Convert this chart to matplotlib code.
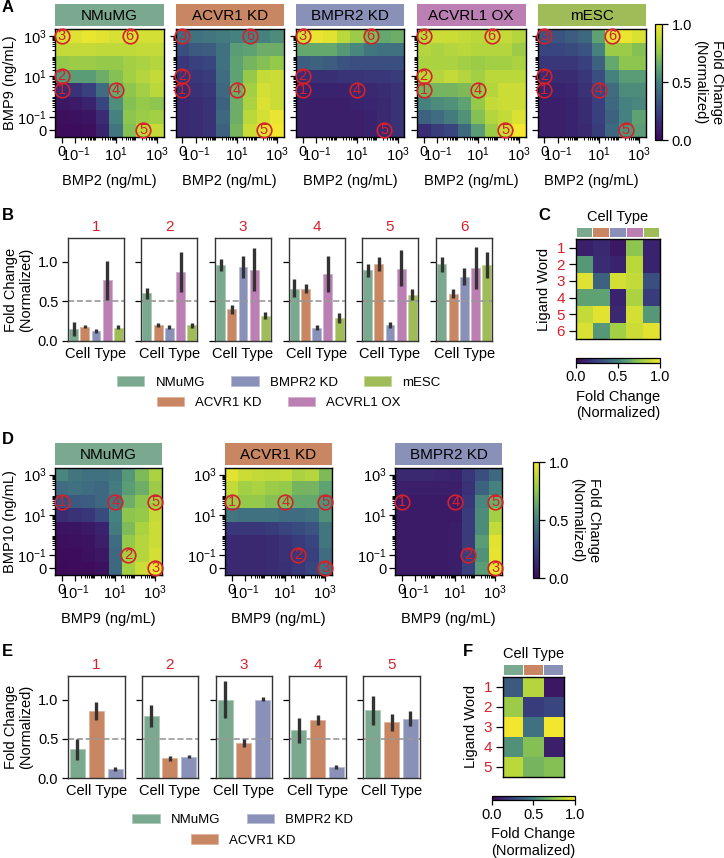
import numpy as np
import matplotlib
matplotlib.use('Agg')
import matplotlib.pyplot as plt
from matplotlib.colors import LinearSegmentedColormap, to_rgb
from matplotlib.patches import Patch

plt.rcParams['font.family'] = ['Liberation Sans', 'DejaVu Sans']
plt.rcParams['mathtext.default'] = 'regular'
plt.rcParams['font.size'] = 10.5
plt.rcParams['axes.linewidth'] = 1.0

W, H = 724, 858
RED = '#d6202a'

# viridis as it looks in the printed figure, a bit muted
muted = LinearSegmentedColormap.from_list('muted_viridis', [
    (0.0, '#3d0b5a'), (0.13, '#3a2670'), (0.25, '#38437f'), (0.38, '#3d6280'),
    (0.5, '#44807f'), (0.62, '#5ea273'), (0.75, '#90c84c'), (0.88, '#c2da38'),
    (1.0, '#f2e72e')])

# cell types
cell_types = ['NMuMG', 'ACVR1 KD', 'BMPR2 KD', 'ACVRL1 OX', 'mESC']
cell_colors = ['#7aa98f', '#c98662', '#8a91b8', '#bb7fb3', '#9fbc58']

# titration doses, one cell per dose
doses = [0, 0.1, 0.46, 2.15, 10, 46, 215, 1000]

# panel A, rows from top (BMP9 high) to bottom
a_nmumg = [[.93, .95, .98, .96, .93, .93, .92, .92],
           [.88, .88, .88, .87, .87, .87, .88, .88],
           [.76, .78, .78, .76, .76, .80, .82, .84],
           [.58, .60, .60, .66, .72, .80, .84, .88],
           [.15, .18, .24, .42, .64, .74, .80, .86],
           [.06, .08, .12, .26, .55, .72, .76, .74],
           [.02, .03, .05, .15, .50, .74, .78, .80],
           [.01, .01, .02, .12, .46, .72, .86, .88]]
a_acvr1 = [[.42, .44, .46, .48, .50, .50, .50, .54],
           [.30, .34, .36, .44, .60, .62, .66, .66],
           [.20, .24, .26, .44, .62, .68, .72, .76],
           [.18, .20, .22, .42, .62, .76, .88, .90],
           [.16, .18, .20, .40, .66, .80, .92, .90],
           [.14, .16, .18, .38, .66, .82, .94, .90],
           [.14, .16, .18, .40, .66, .86, .92, .98],
           [.14, .16, .18, .38, .68, .90, .96, 1.0]]
a_bmpr2 = [[.92, .98, .96, .86, .78, .70, .64, .66],
           [.64, .64, .64, .58, .52, .46, .44, .44],
           [.36, .38, .36, .32, .30, .30, .30, .30],
           [.16, .17, .17, .19, .19, .20, .20, .22],
           [.12, .12, .12, .12, .14, .14, .16, .18],
           [.10, .10, .10, .10, .12, .13, .14, .18],
           [.10, .10, .10, .10, .10, .12, .14, .18],
           [.10, .10, .10, .10, .10, .12, .14, .18]]
a_acvrl1 = [[.86, .90, .90, .88, .86, .88, .88, .84],
            [.84, .82, .84, .86, .84, .84, .84, .78],
            [.82, .82, .82, .80, .78, .80, .80, .82],
            [.86, .84, .88, .84, .80, .86, .86, .86],
            [.68, .68, .68, .70, .76, .84, .90, .90],
            [.50, .54, .56, .62, .76, .88, .90, .90],
            [.38, .42, .48, .56, .72, .84, .88, .94],
            [.16, .22, .26, .40, .60, .78, .90, 1.0]]
a_mesc = [[.32, .32, .36, .40, .62, .95, .98, .94],
          [.26, .26, .28, .32, .50, .78, .78, .72],
          [.20, .20, .20, .24, .38, .64, .74, .74],
          [.15, .15, .16, .20, .30, .50, .60, .60],
          [.12, .12, .13, .18, .26, .42, .54, .54],
          [.10, .10, .12, .16, .24, .40, .50, .52],
          [.10, .10, .12, .16, .24, .38, .50, .62],
          [.10, .10, .12, .14, .22, .40, .56, .60]]

# panel D
d_nmumg = [[.52, .46, .44, .44, .46, .58, .70, .82],
           [.42, .44, .42, .40, .48, .60, .66, .78],
           [.30, .34, .36, .40, .46, .66, .74, .80],
           [.16, .18, .20, .28, .50, .74, .76, .88],
           [.04, .05, .07, .12, .48, .70, .82, .90],
           [.02, .03, .04, .10, .42, .76, .84, .90],
           [.01, .01, .03, .06, .40, .80, .84, .92],
           [.00, .01, .01, .03, .40, .80, .90, .98]]
d_acvr1 = [[.96, .90, .88, .87, .88, .82, .84, .70],
           [.88, .80, .82, .78, .76, .68, .68, .62],
           [.78, .76, .76, .72, .70, .64, .64, .56],
           [.46, .44, .44, .44, .42, .42, .44, .56],
           [.20, .20, .20, .22, .26, .28, .32, .46],
           [.14, .14, .14, .15, .18, .22, .26, .46],
           [.14, .14, .14, .15, .18, .20, .24, .42],
           [.14, .14, .14, .15, .17, .20, .26, .44]]
d_bmpr2 = [[.14, .14, .14, .13, .12, .20, .30, .40],
           [.10, .10, .10, .10, .10, .18, .38, .50],
           [.08, .08, .08, .08, .08, .20, .52, .66],
           [.08, .08, .08, .08, .08, .22, .54, .80],
           [.08, .08, .08, .08, .09, .22, .54, .88],
           [.08, .08, .08, .08, .09, .22, .60, .96],
           [.08, .08, .08, .08, .09, .24, .56, .97],
           [.08, .08, .08, .08, .09, .24, .60, .97]]

# numbered ligand words as (x dose, y dose)
words_a = [(0, 2.15), (0, 10), (0, 1000), (10, 2.15), (215, 0), (46, 1000)]
words_d = [(0, 46), (46, 0.1), (1000, 0), (10, 46), (1000, 46)]

# bars: means and error bar ends, one row per word
b_mean = [[.15, .18, .12, .77, .17],
          [.60, .20, .17, .87, .20],
          [.96, .40, .94, .90, .32],
          [.66, .66, .17, .85, .29],
          [.89, .97, .20, .91, .58],
          [.97, .59, .81, .92, .96]]
b_low = [[.06, .16, .10, .52, .15],
         [.53, .18, .15, .62, .17],
         [.88, .34, .80, .63, .28],
         [.55, .60, .14, .62, .23],
         [.81, .88, .16, .69, .52],
         [.87, .54, .71, .65, .80]]
b_high = [[.24, .20, .15, 1.01, .20],
          [.67, .23, .20, 1.12, .23],
          [1.04, .46, 1.07, 1.17, .36],
          [.78, .72, .20, 1.07, .35],
          [.97, 1.06, .24, 1.15, .65],
          [1.06, .66, .92, 1.19, 1.12]]

e_mean = [[.37, .86, .115],
          [.79, .25, .27],
          [1.0, .45, 1.0],
          [.61, .74, .14],
          [.87, .71, .75]]
e_low = [[.23, .74, .09],
         [.65, .22, .25],
         [.76, .39, .98],
         [.44, .68, .11],
         [.68, .60, .66]]
e_high = [[.50, .97, .14],
          [.93, .28, .295],
          [1.24, .50, 1.03],
          [.76, .80, .17],
          [1.05, .81, .85]]

c_matrix = [[.10, .14, .06, .74, .12],
            [.58, .16, .12, .86, .12],
            [.95, .38, .92, .88, .30],
            [.62, .62, .12, .82, .22],
            [.88, .96, .14, .92, .58],
            [.94, .58, .80, .90, .96]]
f_matrix = [[.34, .84, .06],
            [.78, .22, .26],
            [1.0, .44, 1.0],
            [.56, .72, .10],
            [.86, .68, .72]]

major_doses = [0, 0.1, 10, 1000]
major_labels = ['0', '$10^{-1}$', '$10^{1}$', '$10^{3}$']


def px_axes(x0, y0, x1, y1):
    # axes from pixel box, y counted from the top of the image
    return fig.add_axes([x0 / W, 1 - y1 / H, (x1 - x0) / W, (y1 - y0) / H])


def dose_pos(c):
    # cells 1..7 are log spaced, cell 0 holds the zero dose
    if c == 0:
        return 0.5
    return 1.5 + 1.5 * (np.log10(c) + 1)


def minor_positions():
    pos = []
    for d in [-1, 0, 1, 2]:
        for m in range(2, 10):
            pos.append(dose_pos(m * 10.0 ** d))
    return pos


def lighter(color, amount=0.4):
    return tuple(c + (1 - c) * amount for c in to_rgb(color))


def heatmap(box, head_box, values, name, color, xname, yname, words, show_ylabel=True, show_yticks=True):
    ax = px_axes(*box)
    edges = np.arange(len(doses) + 1)
    ax.pcolormesh(edges, edges, np.array(values)[::-1], cmap=muted, vmin=0, vmax=1)
    ticks = [dose_pos(c) for c in major_doses]
    for axis in (ax.xaxis, ax.yaxis):
        axis.set_ticks(ticks)
        axis.set_ticklabels(major_labels, fontsize=10.5)
        axis.set_ticks(minor_positions(), minor=True)
    ax.tick_params(which='major', length=4, width=0.9, pad=2)
    ax.tick_params(which='minor', length=2.2, width=0.7)
    if not show_yticks:
        ax.set_yticklabels([])
    ax.set_xlim(0, 8)
    ax.set_ylim(0, 8)
    ax.set_xlabel(xname, labelpad=7)
    if show_ylabel:
        ax.set_ylabel(yname, labelpad=0)
    for i, (cx, cy) in enumerate(words):
        px, py = dose_pos(cx), dose_pos(cy)
        ax.plot(px, py, 'o', ms=10.5, mfc='none', mec=RED, mew=1.2, clip_on=False, zorder=5)
        ax.text(px, py, str(i + 1), color=RED, ha='center', va='center', fontsize=10.5, zorder=6,
                clip_on=False)
    # coloured title bar
    head = px_axes(*head_box)
    head.set_facecolor(color)
    head.set_xticks([])
    head.set_yticks([])
    for s in head.spines.values():
        s.set_visible(False)
    head.text(0.5, 0.47, name, transform=head.transAxes, ha='center', va='center', fontsize=11)
    return ax


def colorbar_v(box, mesh_ax):
    cax = px_axes(*box)
    cb = fig.colorbar(mesh_ax.collections[0], cax=cax)
    cb.set_ticks([0, 0.5, 1.0])
    cb.set_ticklabels(['0.0', '0.5', '1.0'])
    cax.tick_params(length=4, width=0.9, pad=3)
    cb.set_label('Fold Change\n(Normalized)', rotation=270, va='bottom', labelpad=1)
    cb.outline.set_linewidth(0.9)


def bar_panels(lefts, width, y0, y1, means, lows, highs, colors):
    for k, left in enumerate(lefts):
        ax = px_axes(left, y0, left + width, y1)
        mean = np.array(means[k])
        x = np.arange(len(mean))
        ax.bar(x, mean, width=0.8, color=colors, edgecolor=[lighter(c) for c in colors], linewidth=0.7)
        ax.axhline(0.5, color='#999999', ls='--', lw=1.2)
        ax.vlines(x, lows[k], highs[k], color='#333333', lw=2.4, zorder=4)
        ax.set_xlim(-0.5, len(mean) - 0.5)
        ax.set_ylim(0, 1.3)
        ax.set_xticks([])
        ax.set_yticks([0, 0.5, 1.0])
        ax.tick_params(axis='y', length=4, width=0.9, pad=3)
        ax.set_xlabel('Cell Type', labelpad=4)
        ax.set_title(str(k + 1), color=RED, fontsize=11, pad=5)
        for s in ax.spines.values():
            s.set_color('#333333')
        if k == 0:
            ax.set_yticklabels(['0.0', '0.5', '1.0'])
            ax.set_ylabel('Fold Change\n(Normalized)', labelpad=3, linespacing=1.15)
        else:
            ax.set_yticklabels([])


def word_matrix(box, strip_y, cbar_box, values, colors):
    ax = px_axes(*box)
    values = np.array(values)
    rows, cols = values.shape
    mesh = ax.pcolormesh(np.arange(cols + 1), np.arange(rows + 1), values,
                         cmap=muted, vmin=0, vmax=1)
    ax.set_ylim(rows, 0)
    ax.set_xticks([])
    ax.set_yticks(np.arange(rows) + 0.5)
    ax.set_yticklabels([str(i + 1) for i in range(rows)], color=RED, fontsize=11)
    ax.tick_params(axis='y', length=5, width=0.9, pad=3)
    ax.set_ylabel('Ligand Word', labelpad=4)
    # colour strip over the columns
    strip = px_axes(box[0], strip_y[0], box[2], strip_y[1])
    strip.bar(np.arange(cols), np.ones(cols), width=0.92, color=colors)
    strip.set_xlim(-0.5, cols - 0.5)
    strip.set_ylim(0, 1)
    strip.axis('off')
    strip.set_title('Cell Type', fontsize=10.5, pad=5)
    # horizontal colour bar
    cax = px_axes(*cbar_box)
    cb = fig.colorbar(mesh, cax=cax, orientation='horizontal')
    cb.set_ticks([0, 0.5, 1.0])
    cb.set_ticklabels(['0.0', '0.5', '1.0'])
    cax.tick_params(length=3.5, width=0.9, pad=2)
    cb.set_label('Fold Change\n(Normalized)', labelpad=4)
    cb.outline.set_linewidth(0.9)


def legend_row(names, colors, cx, cy):
    handles = [Patch(facecolor=c, edgecolor=lighter(c), linewidth=0.7) for c in colors]
    leg = fig.legend(handles, names, loc='center', bbox_to_anchor=(cx / W, 1 - cy / H),
                     ncol=len(names), frameon=False, fontsize=9.5, handlelength=2.05, handleheight=0.75,
                     handletextpad=0.85, columnspacing=2.0, borderpad=0, borderaxespad=0)
    return leg


fig = plt.figure(figsize=(W / 100, H / 100), dpi=100)

# A
a_data = [a_nmumg, a_acvr1, a_bmpr2, a_acvrl1, a_mesc]
a_lefts = [55, 175.5, 296, 417, 537.5]
for i, left in enumerate(a_lefts):
    ax = heatmap((left, 29, left + 108.5, 137), (left, 4, left + 108.5, 26), a_data[i],
                 cell_types[i], cell_colors[i], 'BMP2 (ng/mL)', 'BMP9 (ng/mL)', words_a,
                 show_ylabel=(i == 0), show_yticks=(i == 0))
colorbar_v((655, 24, 662, 140), ax)

# B
bar_panels([68, 141.3, 215, 288.7, 362, 436.3], 56, 238, 341, b_mean, b_low, b_high, cell_colors)
legend_row([cell_types[0], cell_types[2], cell_types[4]],
           [cell_colors[0], cell_colors[2], cell_colors[4]], 279, 382.7)
legend_row([cell_types[1], cell_types[3]], [cell_colors[1], cell_colors[3]], 279, 403)

# C
word_matrix((576, 239.3, 660, 339.3), (227.7, 237.3), (576, 358, 660, 362.7), c_matrix, cell_colors)

# D
d_data = [d_nmumg, d_acvr1, d_bmpr2]
d_lefts = [55, 225, 395]
for i, left in enumerate(d_lefts):
    ax = heatmap((left, 468, left + 107, 575), (left, 443, left + 107, 465), d_data[i],
                 cell_types[i], cell_colors[i], 'BMP9 (ng/mL)', 'BMP10 (ng/mL)', words_d,
                 show_ylabel=(i == 0))
colorbar_v((533, 462, 539, 578), ax)

# E
bar_panels([68, 141.7, 215.7, 289.3, 363.3], 56.5, 676, 778, e_mean, e_low, e_high, cell_colors[:3])
legend_row([cell_types[0], cell_types[2]], [cell_colors[0], cell_colors[2]], 242.7, 820)
legend_row([cell_types[1]], [cell_colors[1]], 243, 840.7)

# F
word_matrix((503, 676.7, 564, 777), (664.7, 674.7), (491.7, 795.7, 575, 800.3), f_matrix, cell_colors[:3])

# panel letters
for letter, lx, ly in [('A', 2, 8), ('B', 2, 216), ('C', 538, 216), ('D', 2, 440), ('E', 2, 651), ('F', 463, 651)]:
    fig.text(lx / W, 1 - ly / H, letter, fontweight='bold', fontsize=12, ha='left', va='center')

fig.savefig('out.png', dpi=100)
